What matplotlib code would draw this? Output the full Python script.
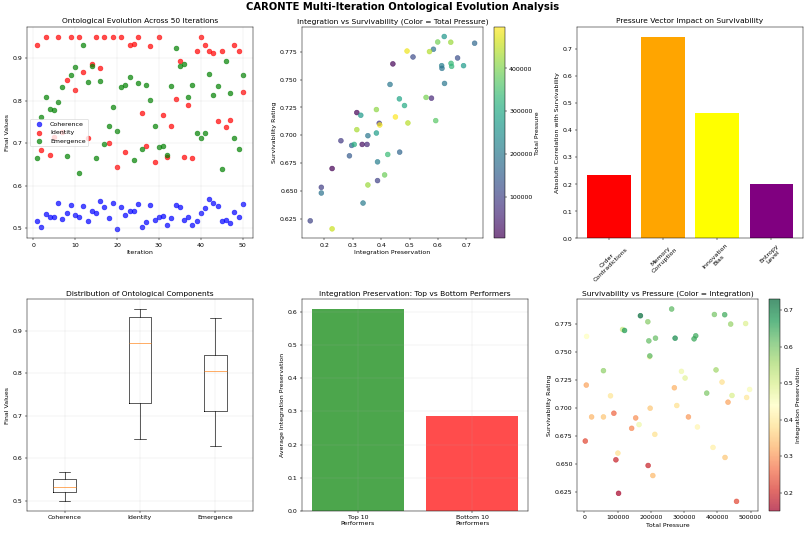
import numpy as np
import matplotlib
matplotlib.use("Agg")
import matplotlib.pyplot as plt

# ---- Panel 1 / 4 data: per-iteration final values ----
iterations = list(range(1, 51))
coherence = [0.517, 0.502, 0.532, 0.527, 0.527, 0.560, 0.522, 0.535, 0.555, 0.531,
             0.526, 0.551, 0.516, 0.541, 0.535, 0.564, 0.550, 0.523, 0.558, 0.498,
             0.550, 0.531, 0.539, 0.539, 0.557, 0.502, 0.515, 0.554, 0.520, 0.525,
             0.528, 0.507, 0.523, 0.554, 0.549, 0.520, 0.527, 0.507, 0.517, 0.536,
             0.547, 0.568, 0.558, 0.553, 0.517, 0.520, 0.511, 0.538, 0.527, 0.556]
identity = [0.931, 0.683, 0.951, 0.672, 0.715, 0.950, 0.725, 0.848, 0.950, 0.824,
            0.950, 0.868, 0.713, 0.887, 0.950, 0.876, 0.950, 0.701, 0.950, 0.644,
            0.950, 0.680, 0.931, 0.933, 0.950, 0.771, 0.692, 0.929, 0.655, 0.950,
            0.767, 0.668, 0.741, 0.804, 0.894, 0.668, 0.789, 0.665, 0.917, 0.950,
            0.932, 0.917, 0.912, 0.753, 0.917, 0.739, 0.755, 0.931, 0.917, 0.821]
emergence = [0.666, 0.761, 0.809, 0.780, 0.777, 0.797, 0.831, 0.670, 0.861, 0.880,
             0.629, 0.931, 0.844, 0.882, 0.665, 0.847, 0.698, 0.740, 0.784, 0.728,
             0.831, 0.836, 0.856, 0.661, 0.842, 0.687, 0.836, 0.802, 0.740, 0.691,
             0.694, 0.672, 0.834, 0.923, 0.882, 0.886, 0.809, 0.837, 0.724, 0.711,
             0.724, 0.862, 0.814, 0.834, 0.640, 0.894, 0.819, 0.711, 0.687, 0.861]

# ---- Panel 2 / 5 / 6 data: integration, survivability, total pressure ----
integration = [0.431, 0.622, 0.599, 0.645, 0.729, 0.584, 0.491, 0.570, 0.512, 0.669,
               0.441, 0.646, 0.648, 0.613, 0.614, 0.690, 0.623, 0.464, 0.577, 0.558,
               0.482, 0.383, 0.314, 0.328, 0.450, 0.592, 0.393, 0.395, 0.494, 0.314,
               0.383, 0.353, 0.258, 0.296, 0.305, 0.333, 0.350, 0.288, 0.465, 0.423,
               0.387, 0.227, 0.412, 0.387, 0.353, 0.189, 0.189, 0.336, 0.150, 0.227]
survivability = [0.7456, 0.7885, 0.7836, 0.7834, 0.7825, 0.7771, 0.7755, 0.7750, 0.7702, 0.7693,
                 0.7640, 0.7645, 0.7618, 0.7624, 0.7600, 0.7624, 0.7465, 0.7327, 0.7333, 0.7340,
                 0.7267, 0.7231, 0.7204, 0.7180, 0.7165, 0.7132, 0.7108, 0.7093, 0.7111, 0.7051,
                 0.7021, 0.6997, 0.6952, 0.6910, 0.6919, 0.6919, 0.6919, 0.6817, 0.6850, 0.6829,
                 0.6763, 0.6703, 0.6646, 0.6595, 0.6556, 0.6535, 0.6484, 0.6394, 0.6235, 0.6163]
total_pressure = [196000, 262600, 391000, 422000, 168700, 191000, 485000, 440000, 115000, 121000,
                  7000, 335000, 330000, 214000, 194000, 273000, 197000, 292000, 57600, 396000,
                  303000, 414000, 6000, 270700, 497000, 368000, 78800, 488000, 444000, 432000,
                  278000, 198000, 88900, 154500, 313000, 22000, 57600, 142400, 164600, 340000,
                  212000, 3000, 386900, 101000, 423000, 95000, 191900, 206000, 103000, 457600]

# ---- Panel 3 data ----
pressure_vectors = ['Order\nContradictions', 'Memory\nCorruption', 'Innovation\nBias', 'Entropy\nLevel']
correlations = [0.235, 0.745, 0.465, 0.203]
vector_colors = ['red', 'orange', 'yellow', 'purple']

# ---- Panel 5 data ----
group_labels = ['Top 10\nPerformers', 'Bottom 10\nPerformers']

integ = np.array(integration)
surv = np.array(survivability)
order = np.argsort(surv)
top_mean = integ[order[-10:]].mean()
bottom_mean = integ[order[:10]].mean()

fig, axes = plt.subplots(2, 3, figsize=(18, 11.95), dpi=44.78)
fig.subplots_adjust(left=0.0335, right=0.9963, top=0.9495, bottom=0.0449,
                    wspace=0.217, hspace=0.288)
fig.suptitle('CARONTE Multi-Iteration Ontological Evolution Analysis', fontsize=16,
             fontweight='bold', y=0.997)

# 1
ax = axes[0, 0]
ax.scatter(iterations, coherence, c='blue', alpha=0.7, s=60, label='Coherence')
ax.scatter(iterations, identity, c='red', alpha=0.7, s=60, label='Identity')
ax.scatter(iterations, emergence, c='green', alpha=0.7, s=60, label='Emergence')
ax.set_title('Ontological Evolution Across 50 Iterations', fontsize=12)
ax.set_xlabel('Iteration')
ax.set_ylabel('Final Values')
ax.legend(loc='center left')
ax.grid(True, alpha=0.3)

# 2
ax = axes[0, 1]
sc = ax.scatter(integration, survivability, c=total_pressure, cmap='viridis', alpha=0.7, s=60)
ax.set_title('Integration vs Survivability (Color = Total Pressure)', fontsize=12)
ax.set_xlabel('Integration Preservation')
ax.set_ylabel('Survivability Rating')
cb = fig.colorbar(sc, ax=ax)
cb.set_label('Total Pressure')

# 3
ax = axes[0, 2]
ax.bar(pressure_vectors, correlations, color=vector_colors)
ax.set_title('Pressure Vector Impact on Survivability', fontsize=12)
ax.set_ylabel('Absolute Correlation with Survivability')
ax.tick_params(axis='x', rotation=45)

# 4
ax = axes[1, 0]
ax.boxplot([coherence, identity, emergence], tick_labels=['Coherence', 'Identity', 'Emergence'])
ax.set_title('Distribution of Ontological Components', fontsize=12)
ax.set_ylabel('Final Values')
ax.grid(True, alpha=0.3)

# 5
ax = axes[1, 1]
ax.bar(group_labels, [top_mean, bottom_mean], color=['green', 'red'], alpha=0.7)
ax.set_title('Integration Preservation: Top vs Bottom Performers', fontsize=12)
ax.set_ylabel('Average Integration Preservation')
ax.grid(True, alpha=0.3)

# 6
ax = axes[1, 2]
sc2 = ax.scatter(total_pressure, survivability, c=integration, cmap='RdYlGn', alpha=0.7, s=60)
ax.set_title('Survivability vs Pressure (Color = Integration)', fontsize=12)
ax.set_xlabel('Total Pressure')
ax.set_ylabel('Survivability Rating')
cb2 = fig.colorbar(sc2, ax=ax)
cb2.set_label('Integration Preservation')

fig.savefig('out.png', dpi=44.78)
